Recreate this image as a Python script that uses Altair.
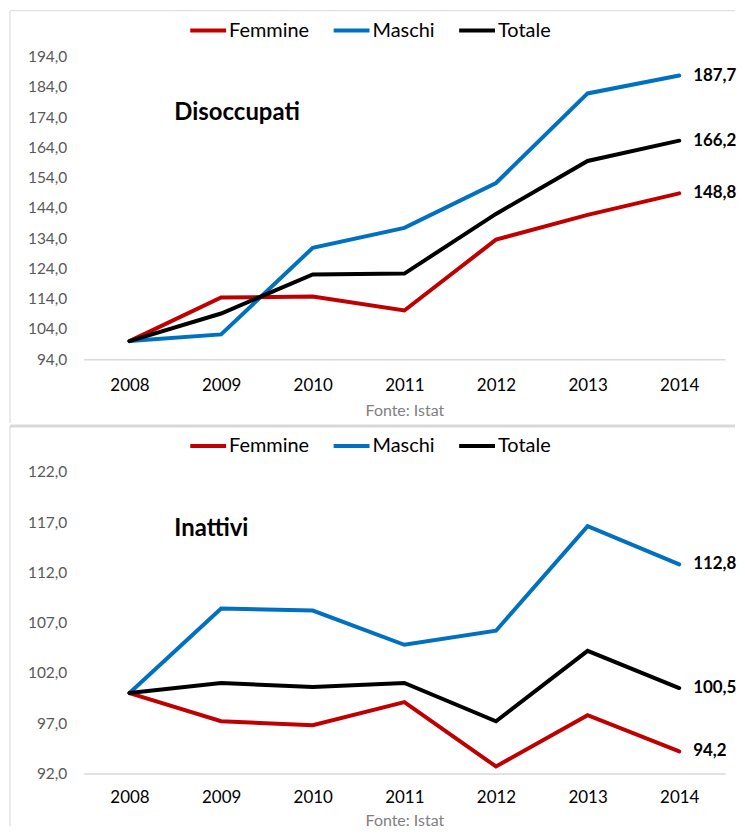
import altair as alt
import pandas as pd

years = ["2008", "2009", "2010", "2011", "2012", "2013", "2014"]
series = ["Femmine", "Maschi", "Totale"]
colors = ["#C00000", "#0070C0", "#000000"]

# Disoccupati (indice 2008 = 100)
dis_femmine = [100.0, 114.4, 114.7, 110.1, 133.5, 141.7, 148.8]
dis_maschi = [100.0, 102.2, 130.8, 137.4, 152.2, 181.8, 187.7]
dis_totale = [100.0, 109.1, 122.0, 122.3, 142.0, 159.5, 166.2]

# Inattivi (indice 2008 = 100)
ina_femmine = [100.0, 97.2, 96.8, 99.1, 92.7, 97.8, 94.2]
ina_maschi = [100.0, 108.4, 108.2, 104.8, 106.2, 116.6, 112.8]
ina_totale = [100.0, 101.0, 100.6, 101.0, 97.2, 104.2, 100.5]

dis_ticks = [94, 104, 114, 124, 134, 144, 154, 164, 174, 184, 194]
ina_ticks = [92, 97, 102, 107, 112, 117, 122]

FONT = "Lato"
GRID = "#d9d9d9"
LBL = "replace(format(datum.value, '.1f'), '.', ',')"


def make_df(f, m, t):
    rows = []
    for name, vals in zip(series, [f, m, t]):
        for y, v in zip(years, vals):
            rows.append({"year": y, "series": name, "value": v})
    return pd.DataFrame(rows)


def panel(df, title, ticks, domain, height, top_rule_y, top_rule_w, left_bottom,
          label_pad, title_pad):
    one = pd.DataFrame({"k": [0]})
    x = alt.X(
        "year:O",
        scale=alt.Scale(type="point", padding=0.5),
        axis=alt.Axis(
            labelAngle=0, ticks=False, grid=False, domainColor=GRID, domainWidth=1.5,
            labelFontSize=17, labelPadding=label_pad, labelColor="#000000", labelFont=FONT,
            title="Fonte: Istat", titleFontSize=16, titleFontWeight="normal",
            titleColor="#808080", titleFont=FONT, titlePadding=title_pad,
        ),
    )
    y = alt.Y(
        "value:Q",
        scale=alt.Scale(domain=domain, nice=False, zero=False),
        axis=alt.Axis(
            values=ticks, tickCount=len(ticks), labelExpr=LBL, grid=False,
            domain=False, ticks=False, labelOverlap=False, labelPadding=17,
            labelFontSize=15.5, labelColor="#595959", labelFont=FONT, title=None,
        ),
    )
    lines = alt.Chart(df).mark_line(strokeWidth=4, strokeCap="round").encode(
        x=x,
        y=y,
        color=alt.Color(
            "series:N",
            scale=alt.Scale(domain=series, range=colors),
            legend=alt.Legend(
                title=None, orient="none", legendX=105, legendY=-46,
                direction="horizontal", symbolType="stroke", symbolSize=1296,
                symbolStrokeWidth=4, labelFontSize=20, labelFont=FONT,
                labelColor="#000000", columnPadding=16, labelOffset=1, padding=0,
            ),
        ),
        detail="series:N",
    )
    ends = alt.Chart(df).transform_filter("datum.year == '2014'").transform_calculate(
        lab=LBL
    ).mark_text(
        align="left", baseline="middle", dx=14, fontSize=17, fontWeight="bold",
        font=FONT, color="#000000"
    ).encode(x="year:O", y="value:Q", text="lab:N")
    ttl = alt.Chart(one).mark_text(
        align="left", baseline="middle", fontSize=24, fontWeight="bold",
        font=FONT, color="#000000"
    ).encode(x=alt.value(91), y=alt.value(57), text=alt.value(title))
    top_rule = alt.Chart(one).mark_rule(color=GRID, strokeWidth=top_rule_w).encode(
        x=alt.value(-74), x2=alt.value(654), y=alt.value(top_rule_y)
    )
    left_rule = alt.Chart(one).mark_rule(color=GRID, strokeWidth=1).encode(
        x=alt.value(-74), y=alt.value(top_rule_y), y2=alt.value(left_bottom)
    )
    return alt.layer(top_rule, left_rule, lines, ends, ttl).properties(
        width=644, height=height
    )


top = panel(make_df(dis_femmine, dis_maschi, dis_totale), "Disoccupati",
            dis_ticks, [94, 194], 304, -46, 1, 368, 18, 9)
bottom = panel(make_df(ina_femmine, ina_maschi, ina_totale), "Inattivi",
               ina_ticks, [92, 122], 303, -46, 3, 356, 16, 7)

chart = alt.vconcat(top, bottom, spacing=0).resolve_scale(
    color="independent", y="independent"
).resolve_legend(color="independent").properties(
    padding=0, background="#ffffff"
).configure(font=FONT).configure_view(strokeWidth=0)

chart.save("out.html", embed_options={"renderer": "svg", "actions": False})
